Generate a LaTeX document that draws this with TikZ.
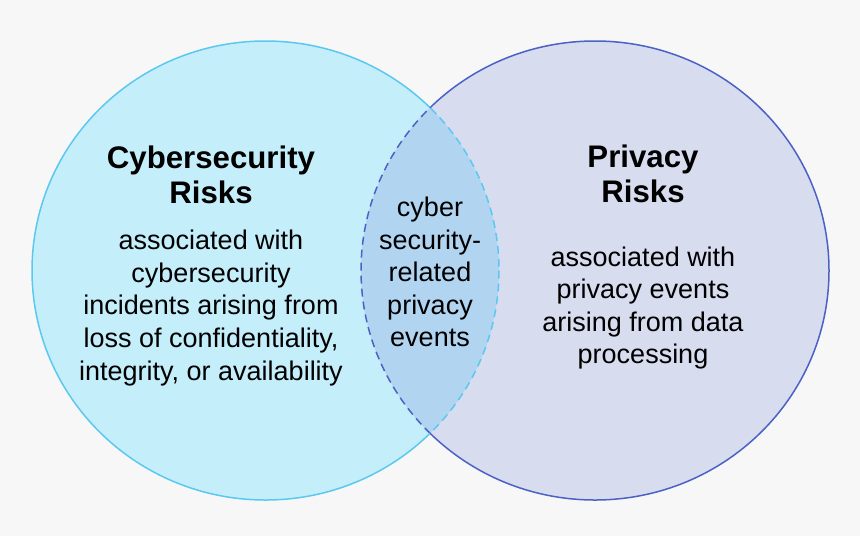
\documentclass[tikz,border=0pt]{standalone}
\usepackage{fontspec}
\setmainfont{Liberation Sans}

\definecolor{bgGray}{HTML}{F7F7F7}
\definecolor{cyberFill}{HTML}{C5EEFB}
\definecolor{cyberLine}{HTML}{5BC8F0}
\definecolor{privFill}{HTML}{D8DCEF}
\definecolor{privLine}{HTML}{4A62C6}
\definecolor{lensFill}{HTML}{B1D5F1}

\tikzset{
  title/.style={font=\fontsize{15.6}{17.5}\selectfont\bfseries, align=center, text=black},
  body/.style={font=\fontsize{13.5}{16.3}\selectfont, align=center, text=black},
  rim/.style={line width=0.75pt},
  lensrim/.style={line width=0.75pt, dash pattern=on 4pt off 2.5pt}
}

\begin{document}
\begin{tikzpicture}[x=0.5pt, y=-0.5pt]
    % Canvas
    \fill[bgGray] (0,0) rectangle (860,536);
    \useasboundingbox (0,0) rectangle (860,536);

    % Circle centres
    \coordinate (cyb) at (265.5,270.5);
    \coordinate (priv) at (595,270.5);

    % Filled discs
    \fill[cyberFill] (cyb) ellipse (233.5 and 229.5);
    \fill[privFill] (priv) ellipse (234 and 229.5);

    % Overlap
    \begin{scope}
        \clip (cyb) ellipse (233.5 and 229.5);
        \fill[lensFill] (priv) ellipse (234 and 229.5);
        \draw[lensrim, privLine] (priv) ellipse (234 and 229.5);
    \end{scope}
    \begin{scope}
        \clip (priv) ellipse (234 and 229.5);
        \draw[lensrim, cyberLine] (cyb) ellipse (233.5 and 229.5);
    \end{scope}

    % Solid outer rims
    \begin{scope}[even odd rule]
        \clip (0,0) rectangle (860,536) (priv) ellipse (234 and 229.5);
        \draw[rim, cyberLine] (cyb) ellipse (233.5 and 229.5);
    \end{scope}
    \begin{scope}[even odd rule]
        \clip (0,0) rectangle (860,536) (cyb) ellipse (233.5 and 229.5);
        \draw[rim, privLine] (priv) ellipse (234 and 229.5);
    \end{scope}

    % Labels
    \node[title] (cybTitle) at (211,175) {Cybersecurity\\Risks};
    \node[body] (cybText) at (211,308) {associated with\\cybersecurity\\incidents arising from\\loss of confidentiality,\\integrity, or availability};
    \node[body] (lensText) at (430,272) {cyber\\security-\\related\\privacy\\events};
    \node[title] (privTitle) at (643,174) {Privacy\\Risks};
    \node[body] (privText) at (643,308) {associated with\\privacy events\\arising from data\\processing};
\end{tikzpicture}
\end{document}
